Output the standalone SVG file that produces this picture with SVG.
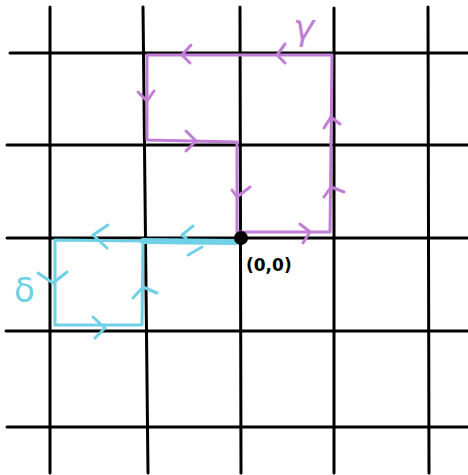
<svg xmlns="http://www.w3.org/2000/svg" width="468" height="475" viewBox="0 0 468 475">
<style>
.grid{stroke:#000;stroke-width:3;stroke-linecap:round;fill:none}
.g{stroke:#c07fd4;stroke-width:3;fill:none;stroke-linecap:round;stroke-linejoin:round}
.d{stroke:#6fd0e6;stroke-width:3;fill:none;stroke-linecap:round;stroke-linejoin:round}
.lbl{font-family:"DejaVu Sans",sans-serif}
</style>
<rect width="468" height="475" fill="#fff"/>
<g id="grid">
<line class="grid" x1="50" y1="7" x2="50" y2="473"/>
<line class="grid" x1="143" y1="7" x2="148" y2="473"/>
<line class="grid" x1="240" y1="7" x2="241" y2="473"/>
<line class="grid" x1="334" y1="8" x2="334" y2="473"/>
<line class="grid" x1="428" y1="7" x2="429" y2="473"/>
<line class="grid" x1="10" y1="53" x2="468" y2="53"/>
<line class="grid" x1="7" y1="145" x2="468" y2="145"/>
<line class="grid" x1="7" y1="238" x2="468" y2="238"/>
<line class="grid" x1="6" y1="331" x2="468" y2="331"/>
<line class="grid" x1="7" y1="427" x2="468" y2="427"/>
</g>
<g id="gamma">
<polyline class="g" points="237,232 330,232 332,55 147,55 147,140 237,142 237,232"/>
<polyline class="g" points="191,45 182,55 190,63"/>
<polyline class="g" points="285,44 277,55 285,63"/>
<polyline class="g" points="138,92 147,101 154,91"/>
<polyline class="g" points="186,131 196,141 186,151"/>
<polyline class="g" points="232,190 237,197 250,187"/>
<polyline class="g" points="300,224 310,232 303,243"/>
<polyline class="g" points="324,128 331,117 340,124"/>
<polyline class="g" points="324,197 331,187 344,192"/>
<text class="lbl" x="293" y="40" font-size="36" fill="#c07fd4" font-style="italic">γ</text>
</g>
<g id="delta">
<line x1="143" y1="241" x2="235" y2="242" stroke="#6fd0e6" stroke-width="6" stroke-linecap="round"/>
<polyline class="d" points="143,241 55,240 55,325 142,325 143,241"/>
<polyline class="d" points="108,225 93,235 107,248"/>
<polyline class="d" points="38,273 53,283 67,272"/>
<polyline class="d" points="93,317 105,328 95,338"/>
<polyline class="d" points="133,298 143,287 157,293"/>
<polyline class="d" points="193,226 182,235 186,238"/>
<polyline class="d" points="188,255 202,247"/>
<text class="lbl" x="14" y="302" font-size="34" fill="#6fd0e6">δ</text>
</g>
<g id="origin">
<circle cx="241" cy="238" r="7" fill="#000"/>
<text class="lbl" x="246" y="271" font-size="17" font-weight="bold" fill="#000">(0,0)</text>
</g>
</svg>
